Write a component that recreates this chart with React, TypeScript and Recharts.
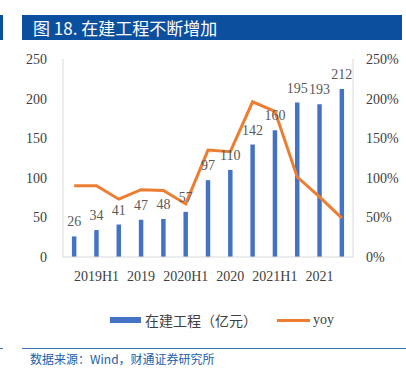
import {
  ComposedChart,
  Bar,
  Line,
  XAxis,
  YAxis,
  Legend,
  LabelList,
} from "recharts";

// quarterly periods, only half-year / full-year ticks are labelled
const periods = [
  "2019Q1", "2019H1", "2019Q3", "2019",
  "2020Q1", "2020H1", "2020Q3", "2020",
  "2021Q1", "2021H1", "2021Q3", "2021",
  "2022Q1",
];
const cip = [26, 34, 41, 47, 48, 57, 97, 110, 142, 160, 195, 193, 212];
const yoy = [0.9, 0.9, 0.73, 0.85, 0.84, 0.67, 1.35, 1.33, 1.96, 1.84, 1.01, 0.76, 0.49];

const leftTicks = [0, 50, 100, 150, 200, 250];
const rightTicks = [0, 0.5, 1, 1.5, 2, 2.5];

const BLUE = "#4472C4";
const ORANGE = "#ED7D31";
const SERIF = "'Liberation Serif', 'Times New Roman', serif";
const CJK = "'Noto Sans CJK SC', sans-serif";

const chartData = periods.map((p, i) => ({ name: p, cip: cip[i], yoy: yoy[i] }));

function LegendBox() {
  return (
    <div style={{ position: "relative", width: 406, height: 20 }}>
      <div style={{ position: "absolute", left: 110, top: 7, width: 31, height: 6, background: BLUE }} />
      <div
        style={{
          position: "absolute", left: 145, top: 0, lineHeight: "20px",
          fontSize: 14, fontFamily: CJK, color: "#404040", whiteSpace: "nowrap",
        }}
      >
        在建工程（亿元）
      </div>
      <div style={{ position: "absolute", left: 277, top: 9, width: 33, height: 3, background: ORANGE }} />
      <div
        style={{
          position: "absolute", left: 313, top: 0, lineHeight: "20px",
          fontSize: 14, fontFamily: SERIF, color: "#404040",
        }}
      >
        yoy
      </div>
    </div>
  );
}

export default function App() {
  return (
    <div style={{ position: "absolute", left: 0, top: 0, width: 406, height: 382, background: "#fff" }}>
      {/* title bar */}
      <div style={{ position: "absolute", left: 0, top: 15, width: 3, height: 25, background: "#0b4f9f" }} />
      <div
        style={{
          position: "absolute", left: 22, top: 15, width: 380, height: 25,
          background: "#0b4f9f", color: "#fff", fontFamily: CJK, fontSize: 17,
          lineHeight: "25px", paddingLeft: 11, boxSizing: "border-box", whiteSpace: "nowrap",
        }}
      >
        图 18. 在建工程不断增加
      </div>

      <div style={{ position: "absolute", left: 0, top: 0 }}>
        <ComposedChart
          width={406}
          height={340}
          data={chartData}
          margin={{ top: 59, right: 0, bottom: 10, left: 0 }}
          barCategoryGap="60%"
        >
          <XAxis
            dataKey="name"
            interval={0}
            tickLine={false}
            height={53}
            tickMargin={8}
            axisLine={{ stroke: "#d9d9d9" }}
            tick={{ fontSize: 14, fontFamily: SERIF, fill: "#404040" }}
            tickFormatter={(v: string, i: number) => (i % 2 === 1 ? v : "")}
          />
          <YAxis
            yAxisId="left"
            width={63}
            domain={[0, 250]}
            ticks={leftTicks}
            tickLine={false}
            tickMargin={10}
            axisLine={{ stroke: "#d9d9d9" }}
            tick={{ fontSize: 14, fontFamily: SERIF, fill: "#404040" }}
          />
          <YAxis
            yAxisId="right"
            orientation="right"
            width={53}
            domain={[0, 2.5]}
            ticks={rightTicks}
            tickLine={false}
            tickMargin={7}
            axisLine={{ stroke: "#d9d9d9" }}
            tick={{ fontSize: 14, fontFamily: SERIF, fill: "#404040", textAnchor: "start" }}
            tickFormatter={(v: number) => `${Math.round(v * 100)}%`}
          />
          <Legend
            verticalAlign="bottom"
            wrapperStyle={{ left: 0, width: 406 }}
            content={() => <LegendBox />}
          />
          <Bar yAxisId="left" dataKey="cip" fill={BLUE} isAnimationActive={false}>
            <LabelList
              dataKey="cip"
              position="top"
              offset={10}
              style={{ fontSize: 14, fontFamily: SERIF, fill: "#595959" }}
            />
          </Bar>
          <Line
            yAxisId="right"
            dataKey="yoy"
            stroke={ORANGE}
            strokeWidth={3}
            dot={false}
            type="linear"
            isAnimationActive={false}
          />
        </ComposedChart>
      </div>

      {/* source line */}
      <div style={{ position: "absolute", left: 0, top: 348, width: 3, height: 1, background: "#3b73b9" }} />
      <div style={{ position: "absolute", left: 22, top: 348, width: 384, height: 1, background: "#3b73b9" }} />
      <div
        style={{
          position: "absolute", left: 30, top: 351, lineHeight: "16px",
          fontSize: 12, fontFamily: CJK, color: "#2260a8", whiteSpace: "nowrap",
        }}
      >
        数据来源：Wind，财通证券研究所
      </div>
    </div>
  );
}
